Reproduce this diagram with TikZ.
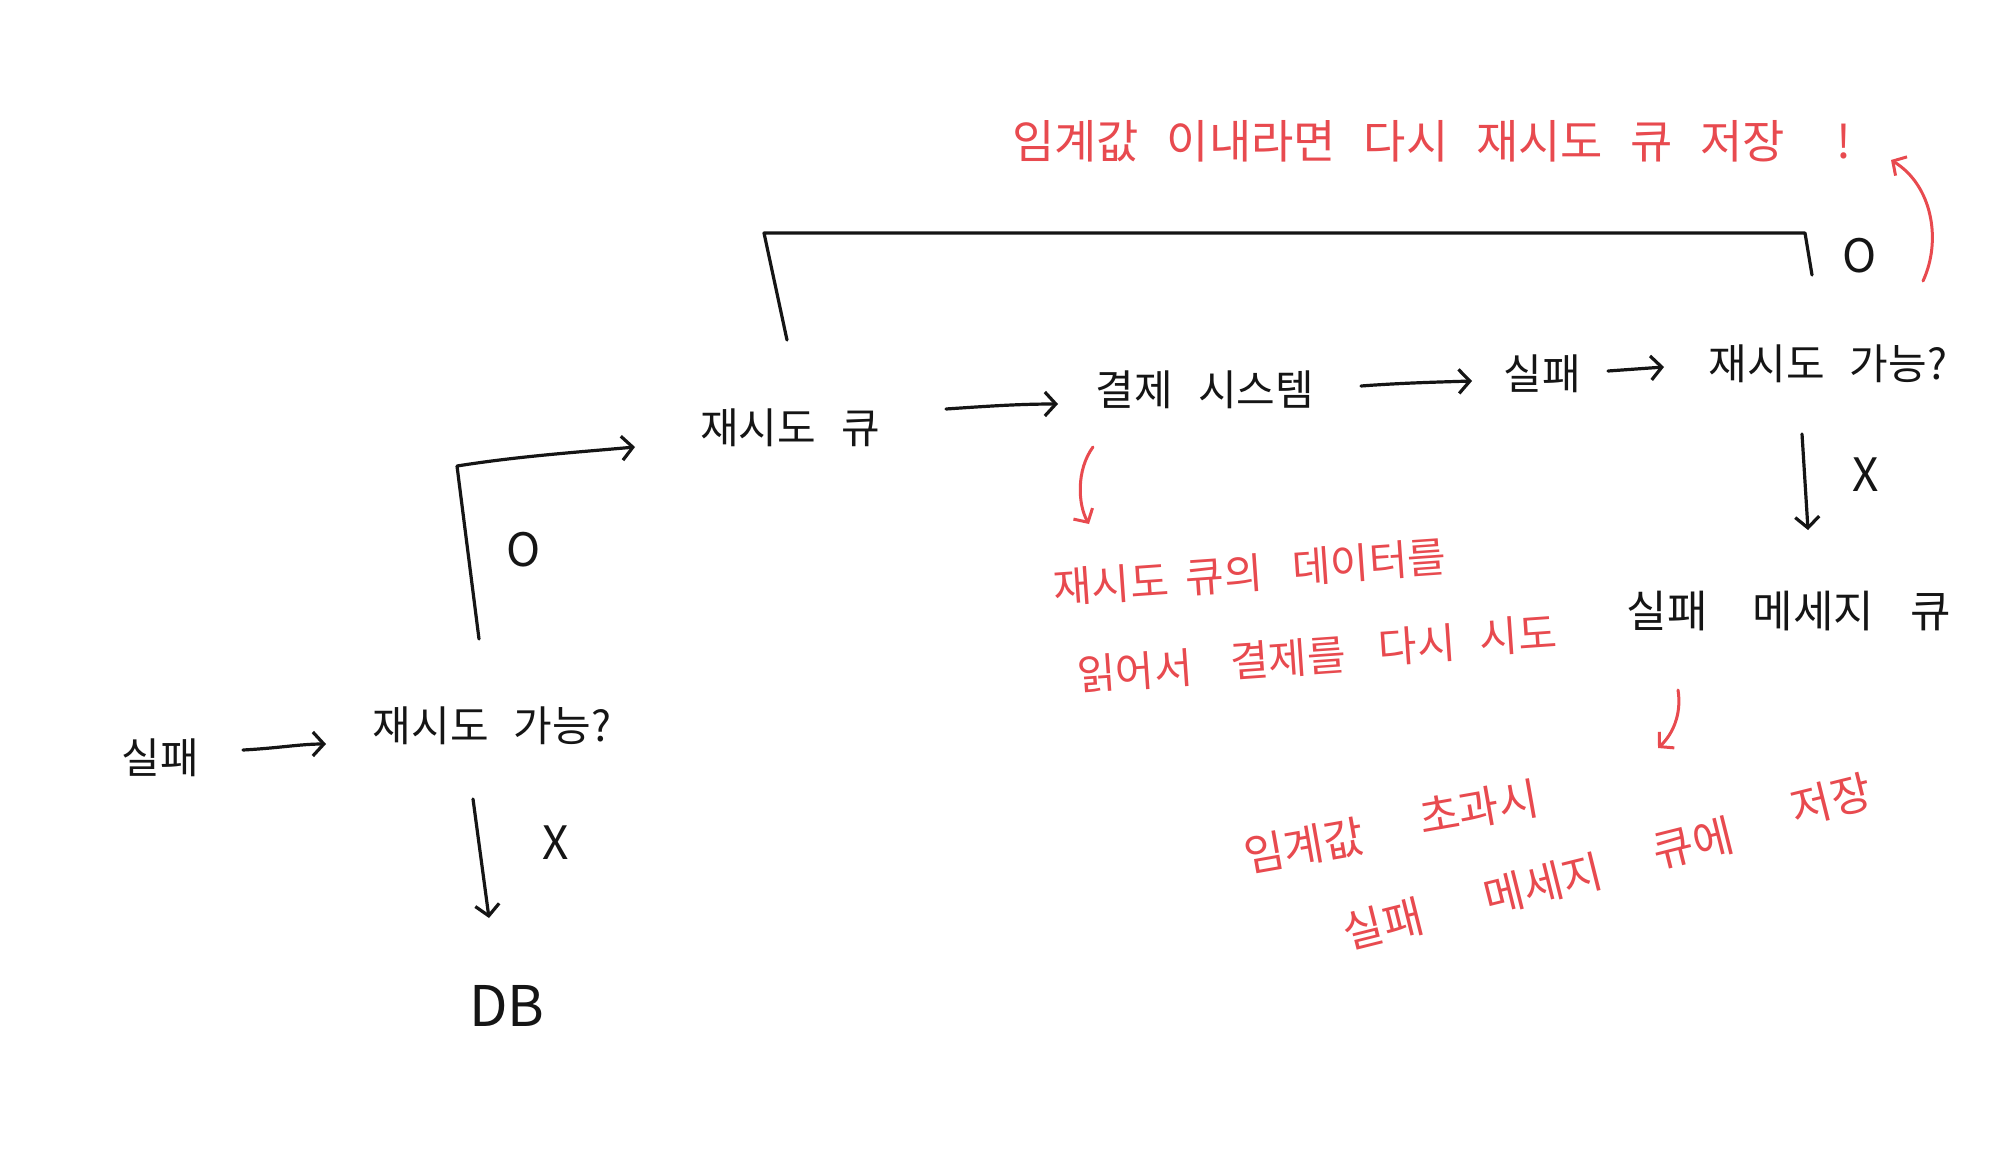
\documentclass[tikz,border=0pt]{standalone}
\usepackage{fontspec}
\setmainfont{Noto Sans CJK KR}
\usetikzlibrary{arrows.meta}
\definecolor{pen}{HTML}{151515}
\definecolor{redpen}{HTML}{E84A4F}
\newcommand{\wsp}[1][0.6em]{\hspace{#1}}
\begin{document}
\begin{tikzpicture}[x=1pt,y=-1pt,
  lbl/.style={inner sep=2pt, font=\fontsize{42}{50}\selectfont, text=pen},
  ox/.style={inner sep=2pt, font=\fontsize{46}{50}\selectfont, text=pen},
  note/.style={inner sep=0pt, font=\fontsize{42}{50}\selectfont, text=redpen},
  word/.style={note, font=\fontsize{44}{50}\selectfont},
  ln/.style={draw=pen, line width=3.2pt, line cap=round, line join=round},
  arr/.style={ln, -{Straight Barb[length=11pt,width=24pt]}},
  rarr/.style={draw=redpen, line width=3pt, line cap=round, -{Straight Barb[length=10pt,width=22pt]}}]
\useasboundingbox[fill=white] (0,0) rectangle (2004,1164);

% black labels
\node[lbl] (f1) at (160,758) {실패};
\node[lbl] (q1) at (492,726) {재시도\wsp 가능?};
\node[ox, font=\fontsize{56}{60}\selectfont] (db) at (507,1006) {DB};
\node[ox] (o1) at (524,550) {O};
\node[ox] (x1) at (556,843) {X};
\node[lbl] (rq) at (790,428) {재시도\wsp 큐};
\node[lbl] (ps) at (1205,390) {결제\wsp 시스템};
\node[lbl] (f2) at (1542,374) {실패};
\node[lbl] (q2) at (1828,364) {재시도\wsp 가능?};
\node[ox] (o2) at (1860,256) {O};
\node[ox] (x2) at (1866,475) {X};
\node[lbl, font=\fontsize{44}{50}\selectfont] (dlq) at (1789,611) {실패\wsp[0.8em] 메세지\wsp[0.6em] 큐};

% red notes
\node[note, font=\fontsize{46}{52}\selectfont] (n1) at (1432,141) {임계값\wsp 이내라면\wsp 다시\wsp 재시도\wsp 큐\wsp 저장\wsp[0.9em] !};
\node[note, rotate=4] (n2a) at (1111,584) {재시도};
\node[note, rotate=4] (n2b) at (1224,575) {큐의};
\node[note, rotate=4] (n2c) at (1369,562) {데이터를};
\node[note, rotate=4] (n3a) at (1135,671) {읽어서};
\node[note, rotate=4] (n3b) at (1288,658) {결제를};
\node[note, rotate=4] (n3c) at (1417,645) {다시};
\node[note, rotate=4] (n3d) at (1518,635) {시도};
\node[word, rotate=10] (n4a) at (1304,846) {임계값};
\node[word, rotate=10] (n4b) at (1479,808) {초과시};
\node[word, rotate=14] (n5a) at (1383,924) {실패};
\node[word, rotate=14] (n5b) at (1543,884) {메세지};
\node[word, rotate=14] (n5c) at (1693,843) {큐에};
\node[word, rotate=14] (n5d) at (1831,800) {저장};

% corner coordinates
\coordinate (cq1) at (457,466);
\coordinate (ct1) at (1805,233);
\coordinate (ct2) at (764,233);

% black connectors
\draw[arr] ([shift={(83,-8)}]f1.center) .. controls (280,748) and (300,744) .. ([shift={(-166,18)}]q1.center);
\draw[arr] ([shift={(-13,-87)}]q1.center) -- (cq1) .. controls (520,456) and (580,452) .. ([shift={(-155,19)}]rq.center);
\draw[arr] ([shift={(-19,73)}]q1.center) -- ([shift={(-18,-88)}]db.center);
\draw[arr] ([shift={(156,-19)}]rq.center) .. controls (990,406) and (1020,404) .. ([shift={(-147,14)}]ps.center);
\draw[arr] ([shift={(156,-4)}]ps.center) .. controls (1400,383) and (1440,382) .. ([shift={(-70,7)}]f2.center);
\draw[arr] ([shift={(66,-3)}]f2.center) -- ([shift={(-164,3)}]q2.center);
\draw[arr] ([shift={(-26,70)}]q2.center) -- ([shift={(19,-81)}]dlq.center);
\draw[ln] ([shift={(-16,-89)}]q2.center) -- (ct1) -- (ct2) -- ([shift={(-3,-88)}]rq.center);

% red connectors
\draw[rarr] ([shift={(63,25)}]o2.center) .. controls (1942,240) and (1932,185) .. ([shift={(459,19)}]n1.center);
\draw[rarr] ([shift={(-112,57)}]ps.center) .. controls (1076,470) and (1078,505) .. ([shift={(-22,-60)}]n2a.center);
\draw[rarr] ([shift={(-111,79)}]dlq.center) .. controls (1682,715) and (1672,735) .. ([shift={(179,-60)}]n4b.center);
\end{tikzpicture}
\end{document}
